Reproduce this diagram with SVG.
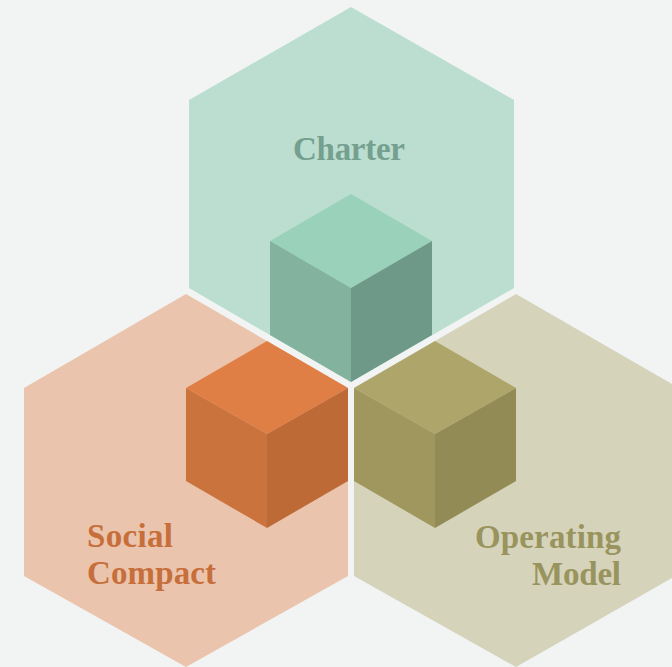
<svg xmlns="http://www.w3.org/2000/svg" width="672" height="667" viewBox="0 0 672 667">
<style>
text{font-family:"Liberation Serif","DejaVu Serif",serif;font-weight:700;font-size:33px}
</style>
<rect width="672" height="667" fill="#f2f4f4"/>
<g id="charter">
<polygon points="351,7 514,100 514,288 351,382 189,288 189,100" fill="#bbded0"/>
<polygon points="351,194 432,241 351,288 270,241" fill="#9ad1bb"/>
<polygon points="270,241 351,288 351,382 270,335" fill="#83b29f"/>
<polygon points="351,288 432,241 432,335 351,382" fill="#6e9988"/>
<text x="349" y="160" text-anchor="middle" fill="#75a08f" textLength="112">Charter</text>
</g>
<g id="social">
<polygon points="186,294 348,388 348,576 186,667 24,576 24,388" fill="#ebc4ad"/>
<polygon points="267,341 348,388 267,434 186,388" fill="#e07f45"/>
<polygon points="186,388 267,434 267,528 186,481" fill="#cb733d"/>
<polygon points="267,434 348,388 348,481 267,528" fill="#bd6a37"/>
<text x="87" y="547" fill="#c76f3b" textLength="86">Social</text>
<text x="87" y="584" fill="#c76f3b" textLength="129">Compact</text>
</g>
<g id="model">
<polygon points="516,294 672,384 672,578 516,667 354,576 354,388" fill="#d6d3bb"/>
<polygon points="435,341 516,388 435,434 354,388" fill="#aea56a"/>
<polygon points="354,388 435,434 435,528 354,481" fill="#9f975e"/>
<polygon points="435,434 516,388 516,481 435,528" fill="#928b55"/>
<text x="475" y="548" fill="#99945e" textLength="146">Operating</text>
<text x="532" y="585" fill="#99945e" textLength="89">Model</text>
</g>
<g id="connectors"/>
</svg>
